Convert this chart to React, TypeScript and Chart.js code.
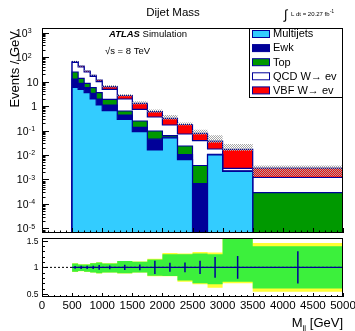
import { useEffect, useRef } from "react";
import { Chart, registerables } from "chart.js";

Chart.register(...registerables);

// ---------------- data ----------------
const binEdges = [500, 600, 700, 800, 900, 1000, 1250, 1500, 1750, 2000, 2250, 2500, 2750, 3000, 3500, 5000];

const seriesLabels = ["Multijets", "Ewk", "Top", "QCD W\u2192 ev", "VBF W\u2192 ev"];
const seriesColors = ["#33ccff", "#000099", "#009900", "#ffffff", "#ff0000"];

const multijets = [5.8, 4.81, 3.49, 1.93, 1.1, 0.643, 0.286, 0.0893, 0.016, 0.0504, 0.00643, 0, 0.0102, 0.00212, 0];
const ewk = [6.8, 3.64, 2.09, 1.37, 0.83, 0.457, 0.143, 0.0457, 0.0282, 0.0039, 0.00387, 0.000687, 0.0002, 0.00005, 0];
const topBkg = [11.8, 5.05, 2.87, 2.28, 1.56, 0.78, 0.196, 0.109, 0.0513, 0.0082, 0.013, 0.00304, 0.0003, 0.0001, 0.000289];
const qcdW = [35.3, 25.6, 15.95, 10.42, 6.33, 2.93, 1.305, 0.489, 0.26, 0.1055, 0.0487, 0.0346, 0.0069, 0.0006, 0.00092];
const vbfW = [5.8, 3.8, 2.4, 1.9, 1.68, 1.32, 0.75, 0.557, 0.229, 0.147, 0.104, 0.0386, 0.019, 0.0142, 0.00173];

// relative MC uncertainty (hatched band)
const mcUncUp = [0.07, 0.07, 0.08, 0.08, 0.08, 0.17, 0.15, 0.2, 0.24, 0.36, 0.2, 0.4, 0.75, 0.65, 0.27];
const mcUncDown = [0.05, 0.05, 0.05, 0.05, 0.05, 0.08, 0.08, 0.1, 0.1, 0.12, 0.1, 0.12, 0.15, 0.15, 0.55];

// ratio panel
const ratioValues = [1, 1, 1, 1, 1, 1, 1, 1, 1, 1, 1, 1, 1, 1, 1];
const ratioStatErr = [0.025, 0.03, 0.03, 0.03, 0.045, 0.035, 0.05, 0.055, 0.125, 0.085, 0.09, 0.125, 0.195, 0.215, 0.305];
const systUp = [0.075, 0.056, 0.056, 0.08, 0.094, 0.075, 0.119, 0.106, 0.15, 0.25, 0.25, 0.26, 0.25, 0.65, 0.4];
const systDown = [0.083, 0.07, 0.083, 0.095, 0.113, 0.095, 0.113, 0.095, 0.158, 0.165, 0.25, 0.3, 0.32, 0.27, 0.4];
const totUp = [0.078, 0.058, 0.058, 0.083, 0.097, 0.078, 0.122, 0.11, 0.165, 0.27, 0.26, 0.29, 0.28, 0.7, 0.46];
const totDown = [0.086, 0.072, 0.086, 0.098, 0.116, 0.098, 0.116, 0.098, 0.17, 0.17, 0.27, 0.32, 0.385, 0.3, 0.46];

// ticks / labels
const yTickExponents = [-5, -4, -3, -2, -1, 0, 1, 2, 3];
const xTickLabels = ["0", "500", "1000", "1500", "2000", "2500", "3000", "3500", "4000", "4500", "5000"];
const ratioTickLabels = ["0.5", "1", "1.5"];

const titleText = "Dijet Mass";
const yTitle = "Events / GeV";
const lumiText = "L dt = 20.27 fb";

// ---------------- style ----------------
const FONT = '"Liberation Sans", Arial, Helvetica, sans-serif';
const NAVY = "#000099";
const FLOOR = 1e-9;
const Y_MIN = Math.pow(10, -5.184);
const Y_MAX = Math.pow(10, 3.184);

type Pt = { x: number; y: number | null };

function stepPoints(vals: number[], floor?: number): Pt[] {
  const pts: Pt[] = [];
  vals.forEach((v, i) => {
    const y = floor !== undefined ? Math.max(v, floor) : v;
    pts.push({ x: binEdges[i], y });
    pts.push({ x: binEdges[i + 1], y });
  });
  return pts;
}

const mainDecor = {
  id: "mainDecor",
  afterDraw(chart: any) {
    const { ctx, chartArea: a } = chart;
    const x = chart.scales.x;
    const y = chart.scales.y;
    ctx.save();
    ctx.strokeStyle = "#000";
    ctx.lineWidth = 1;
    ctx.strokeRect(a.left + 0.5, a.top + 0.5, a.right - a.left - 1, a.bottom - a.top - 1);

    // ticks
    ctx.beginPath();
    for (let e = -6; e <= 3; e++) {
      for (let m = 1; m <= 9; m++) {
        const v = m * Math.pow(10, e);
        if (v <= y.min || v >= y.max) continue;
        const py = Math.round(y.getPixelForValue(v)) + 0.5;
        const len = m === 1 ? 7 : 3.5;
        ctx.moveTo(a.left, py);
        ctx.lineTo(a.left + len, py);
      }
    }
    for (let v = 0; v <= 5000; v += 100) {
      const px = Math.round(x.getPixelForValue(v)) + 0.5;
      const len = v % 500 === 0 ? 5 : 2.5;
      ctx.moveTo(px, a.bottom);
      ctx.lineTo(px, a.bottom - len);
    }
    ctx.stroke();

    // y labels
    ctx.fillStyle = "#000";
    ctx.textBaseline = "alphabetic";
    for (const e of yTickExponents) {
      const py = y.getPixelForValue(Math.pow(10, e));
      ctx.font = `10.5px ${FONT}`;
      ctx.textAlign = "right";
      if (e === 0) {
        ctx.fillText("1", 37, py + 4);
      } else if (e === 1) {
        ctx.fillText("10", 38.5, py + 4);
      } else {
        const base = e > 0 ? 27.5 : 28.5;
        ctx.fillText("10", base, py + 4);
        ctx.textAlign = "left";
        ctx.font = `7px ${FONT}`;
        ctx.fillText(String(e), base + 0.3, py + 0.5);
      }
    }

    // y title
    ctx.save();
    ctx.translate(19, 31);
    ctx.rotate(-Math.PI / 2);
    ctx.textAlign = "right";
    ctx.font = `13px ${FONT}`;
    ctx.fillText(yTitle, 0, 0);
    ctx.restore();

    // title
    ctx.textAlign = "center";
    ctx.font = `11.5px ${FONT}`;
    ctx.fillText(titleText, 173, 16);

    // lumi
    ctx.textAlign = "left";
    ctx.font = `13px ${FONT}`;
    ctx.fillText("\u222B", 284, 18.5);
    ctx.font = `6px ${FONT}`;
    ctx.fillText(lumiText, 291, 16);
    const lw = ctx.measureText(lumiText).width;
    ctx.font = `4.5px ${FONT}`;
    ctx.fillText("-1", 291 + lw + 0.5, 13);

    // ATLAS
    ctx.font = `italic bold 9.5px ${FONT}`;
    ctx.fillText("ATLAS", 109, 36.5);
    const aw = ctx.measureText("ATLAS").width;
    ctx.font = `9.5px ${FONT}`;
    ctx.fillText(" Simulation", 109 + aw, 36.5);
    ctx.fillText("\u221As = 8 TeV", 105, 53.5);

    // legend
    ctx.fillStyle = "#fff";
    ctx.fillRect(249.5, 28.5, 93, 69);
    ctx.strokeStyle = "#000";
    ctx.strokeRect(249.5, 28.5, 93, 69);
    const items = chart.data.datasets.filter((d: any) => d.isSeries);
    items.forEach((d: any, i: number) => {
      const top = 30.5 + i * 14.1;
      ctx.fillStyle = d.backgroundColor;
      ctx.fillRect(252.5, top, 17, 7);
      ctx.strokeStyle = NAVY;
      ctx.lineWidth = 1;
      ctx.strokeRect(252.5, top, 17, 7);
      ctx.fillStyle = "#000";
      ctx.font = `11px ${FONT}`;
      ctx.textAlign = "left";
      ctx.fillText(d.label, 273, top + 6.8);
    });
    ctx.restore();
  },
};

const ratioDecor = {
  id: "ratioDecor",
  afterDraw(chart: any) {
    const { ctx, chartArea: a } = chart;
    const x = chart.scales.x;
    const y = chart.scales.y;
    ctx.save();
    ctx.strokeStyle = "#000";
    ctx.lineWidth = 1;
    ctx.strokeRect(a.left + 0.5, a.top + 0.5, a.right - a.left - 1, a.bottom - a.top - 1);
    ctx.beginPath();
    for (let k = 5; k <= 15; k++) {
      const v = k / 10;
      const py = Math.round(y.getPixelForValue(v)) + 0.5;
      const len = k % 5 === 0 ? 6 : 3;
      ctx.moveTo(a.left, py);
      ctx.lineTo(a.left + len, py);
    }
    for (let v = 0; v <= 5000; v += 100) {
      const px = Math.round(x.getPixelForValue(v)) + 0.5;
      const len = v % 500 === 0 ? 4 : 2;
      ctx.moveTo(px, a.bottom);
      ctx.lineTo(px, a.bottom - len);
    }
    ctx.stroke();

    ctx.fillStyle = "#000";
    ctx.textBaseline = "alphabetic";
    ctx.font = `8.5px ${FONT}`;
    ctx.textAlign = "right";
    for (const t of ratioTickLabels) {
      const py = y.getPixelForValue(parseFloat(t));
      ctx.fillText(t, 38.5, py + 3);
    }
    ctx.font = `11.5px ${FONT}`;
    ctx.textAlign = "center";
    for (const t of xTickLabels) {
      const px = x.getPixelForValue(parseFloat(t));
      ctx.fillText(t, px, 309);
    }
    // x title
    ctx.textAlign = "left";
    ctx.font = `13px ${FONT}`;
    const wM = ctx.measureText("M").width;
    const wG = ctx.measureText(" [GeV]").width;
    ctx.font = `8px ${FONT}`;
    const wj = ctx.measureText("jj").width;
    const x0 = 343 - wG - wj - wM;
    ctx.font = `13px ${FONT}`;
    ctx.fillText("M", x0, 326.5);
    ctx.font = `8px ${FONT}`;
    ctx.fillText("jj", x0 + wM, 329.5);
    ctx.font = `13px ${FONT}`;
    ctx.fillText(" [GeV]", x0 + wM + wj, 326.5);
    ctx.restore();
  },
};

export default function App() {
  const mainRef = useRef<HTMLCanvasElement>(null);
  const ratioRef = useRef<HTMLCanvasElement>(null);

  useEffect(() => {
    const mainCanvas = mainRef.current!;
    const ratioCanvas = ratioRef.current!;
    const mctx = mainCanvas.getContext("2d")!;

    const pc = document.createElement("canvas");
    pc.width = 2;
    pc.height = 2;
    const pctx = pc.getContext("2d")!;
    pctx.fillStyle = "#a6a6a6";
    pctx.fillRect(0, 0, 1, 1);
    pctx.fillRect(1, 1, 1, 1);
    const hatch = mctx.createPattern(pc, "repeat");

    const cum: number[][] = [];
    let run = multijets.map(() => 0);
    [multijets, ewk, topBkg, qcdW, vbfW].forEach((s) => {
      run = run.map((r, i) => r + s[i]);
      cum.push(run);
    });
    const total = cum[cum.length - 1];
    const first = binEdges[0];
    const last = binEdges[binEdges.length - 1];
    const closed = (vals: number[]): Pt[] => [
      { x: first, y: FLOOR },
      ...stepPoints(vals, FLOOR),
      { x: last, y: FLOOR },
    ];

    const mainDatasets: any[] = [
      {
        label: "unc-high",
        data: stepPoints(total.map((t, i) => t * (1 + mcUncUp[i]))),
        borderWidth: 0,
        pointRadius: 0,
        fill: 1,
        backgroundColor: hatch,
      },
      {
        label: "unc-low",
        data: stepPoints(total.map((t, i) => t * (1 - mcUncDown[i]))),
        borderWidth: 0,
        pointRadius: 0,
        fill: false,
      },
      ...cum.map((c, k) => ({
        label: seriesLabels[k],
        isSeries: true,
        data: closed(c),
        backgroundColor: seriesColors[k],
        borderColor: NAVY,
        borderWidth: 1.2,
        pointRadius: 0,
        fill: k === 0 ? "start" : k + 1,
      })),
    ];

    const common = {
      animation: false as const,
      responsive: false,
      devicePixelRatio: 1,
      events: [] as any[],
      plugins: { legend: { display: false }, tooltip: { enabled: false }, title: { display: false } },
      elements: { line: { tension: 0 } },
    };

    const mainChart = new Chart(mainCanvas, {
      type: "line",
      data: { datasets: mainDatasets },
      options: {
        ...common,
        layout: { padding: { left: 42, right: 12, top: 28, bottom: 98 } },
        scales: {
          x: { type: "linear", min: 0, max: 5000, display: false },
          y: { type: "logarithmic", min: Y_MIN, max: Y_MAX, display: false },
        },
      } as any,
      plugins: [mainDecor],
    });

    const errPts: Pt[] = [];
    ratioValues.forEach((r, i) => {
      const c = (binEdges[i] + binEdges[i + 1]) / 2;
      errPts.push({ x: c, y: r - ratioStatErr[i] });
      errPts.push({ x: c, y: r + ratioStatErr[i] });
      errPts.push({ x: c, y: null });
    });

    const ratioDatasets: any[] = [
      { label: "err", data: errPts, borderColor: NAVY, borderWidth: 1.5, pointRadius: 0, fill: false, spanGaps: false },
      { label: "ratio", data: stepPoints(ratioValues), borderColor: NAVY, borderWidth: 1.2, pointRadius: 0, fill: false },
      {
        label: "unity",
        data: [
          { x: 0, y: 1 },
          { x: 5000, y: 1 },
        ],
        borderColor: "#000",
        borderWidth: 1,
        borderDash: [2, 2],
        pointRadius: 0,
        fill: false,
      },
      {
        label: "syst-high",
        data: stepPoints(ratioValues.map((r, i) => r + systUp[i])),
        borderWidth: 0,
        pointRadius: 0,
        fill: 4,
        backgroundColor: "#3cf03c",
      },
      {
        label: "syst-low",
        data: stepPoints(ratioValues.map((r, i) => r - systDown[i])),
        borderWidth: 0,
        pointRadius: 0,
        fill: false,
      },
      {
        label: "tot-high",
        data: stepPoints(ratioValues.map((r, i) => r + totUp[i])),
        borderWidth: 0,
        pointRadius: 0,
        fill: 6,
        backgroundColor: "#ffff33",
      },
      {
        label: "tot-low",
        data: stepPoints(ratioValues.map((r, i) => r - totDown[i])),
        borderWidth: 0,
        pointRadius: 0,
        fill: false,
      },
    ];

    const ratioChart = new Chart(ratioCanvas, {
      type: "line",
      data: { datasets: ratioDatasets },
      options: {
        ...common,
        layout: { padding: { left: 42, right: 12, top: 238, bottom: 34 } },
        scales: {
          x: { type: "linear", min: 0, max: 5000, display: false },
          y: { type: "linear", min: 0.44, max: 1.555, display: false },
        },
      } as any,
      plugins: [ratioDecor],
    });

    return () => {
      mainChart.destroy();
      ratioChart.destroy();
    };
  }, []);

  return (
    <div style={{ position: "fixed", left: 0, top: 0, width: 355, height: 331, background: "#fff" }}>
      <canvas ref={ratioRef} width={355} height={331} style={{ position: "absolute", left: 0, top: 0 }} />
      <canvas ref={mainRef} width={355} height={331} style={{ position: "absolute", left: 0, top: 0 }} />
    </div>
  );
}
